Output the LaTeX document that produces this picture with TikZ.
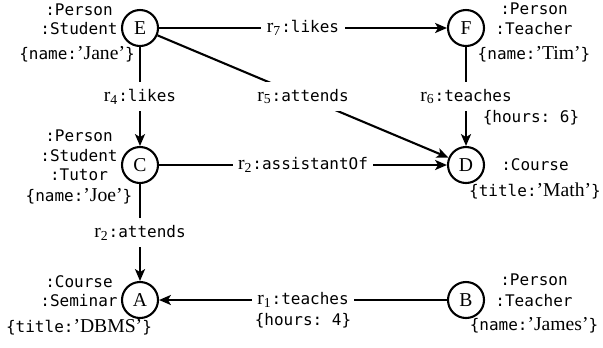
\documentclass[tikz,border=0pt]{standalone}
\usepackage{fontspec}
\setmainfont[Scale=1.08]{Liberation Serif}
\setmonofont[Scale=0.88]{DejaVu Sans Mono}
\usetikzlibrary{arrows.meta}
\newcommand{\rsub}[1]{\textrm{r\textsubscript{#1}}}
\begin{document}
\begin{tikzpicture}[x=0.55pt,y=-0.55pt,
  ent/.style={circle,draw,line width=1.15pt,minimum size=19.8pt,inner sep=0pt,font=\rmfamily},
  typ/.style={font=\ttfamily,inner sep=0pt},
  lbl/.style={fill=white,font=\ttfamily,inner xsep=3pt,inner ysep=3.6pt},
  rel/.style={line width=1.15pt,-{Stealth[length=6.5pt,width=5.5pt,inset=1.6pt]}}]
\useasboundingbox (0,0) rectangle (603,347);
% entities
\node[ent] (E) at (140,28) {E};
\node[ent] (F) at (466,28) {F};
\node[ent] (C) at (140,165) {C};
\node[ent] (D) at (466,165) {D};
\node[ent] (A) at (140,300) {A};
\node[ent] (B) at (466,300) {B};
% type and property labels
\node[typ] (Et1) at (79,10) {:Person};
\node[typ] (Et2) at (79,29) {:Student};
\node[typ] (Ep) at (77,54) {\{name:\textrm{'Jane'}\}};
\node[typ] (Ft1) at (534,9) {:Person};
\node[typ] (Ft2) at (534,29) {:Teacher};
\node[typ] (Fp) at (534,54) {\{name:\textrm{'Tim'}\}};
\node[typ] (Ct1) at (79,136) {:Person};
\node[typ] (Ct2) at (79,156) {:Student};
\node[typ] (Ct3) at (79,175) {:Tutor};
\node[typ] (Cp) at (79,196) {\{name:\textrm{'Joe'}\}};
\node[typ] (Dt1) at (535,165) {:Course};
\node[typ] (Dp) at (535,191) {\{title:\textrm{'Math'}\}};
\node[typ] (At1) at (79,282) {:Course};
\node[typ] (At2) at (79,301) {:Seminar};
\node[typ] (Ap) at (79,327) {\{title:\textrm{'DBMS'}\}};
\node[typ] (Bt1) at (534,280) {:Person};
\node[typ] (Bt2) at (534,301) {:Teacher};
\node[typ] (Bp) at (534,325) {\{name:\textrm{'James'}\}};
% relationships
\draw[rel] (E) -- node[lbl] (l7) {\rsub{7}:likes} (F);
\draw[rel] (E) -- node[lbl] (l5) {\rsub{5}:attends} (D);
\draw[rel] (E) -- node[lbl] (l4) {\rsub{4}:likes} (C);
\draw[rel] (F) -- node[lbl] (l6) {\rsub{6}:teaches} (D);
\node[typ] (h6) at (531,118) {\{hours: 6\}};
\draw[rel] (C) -- node[lbl] (l2a) {\rsub{2}:assistantOf} (D);
\draw[rel] (C) -- node[lbl] (l2b) {\rsub{2}:attends} (A);
\draw[rel] (B) -- node[lbl] (l1) {\rsub{1}:teaches} (A);
\node[typ] (h4) at (303,321) {\{hours: 4\}};
\end{tikzpicture}
\end{document}
